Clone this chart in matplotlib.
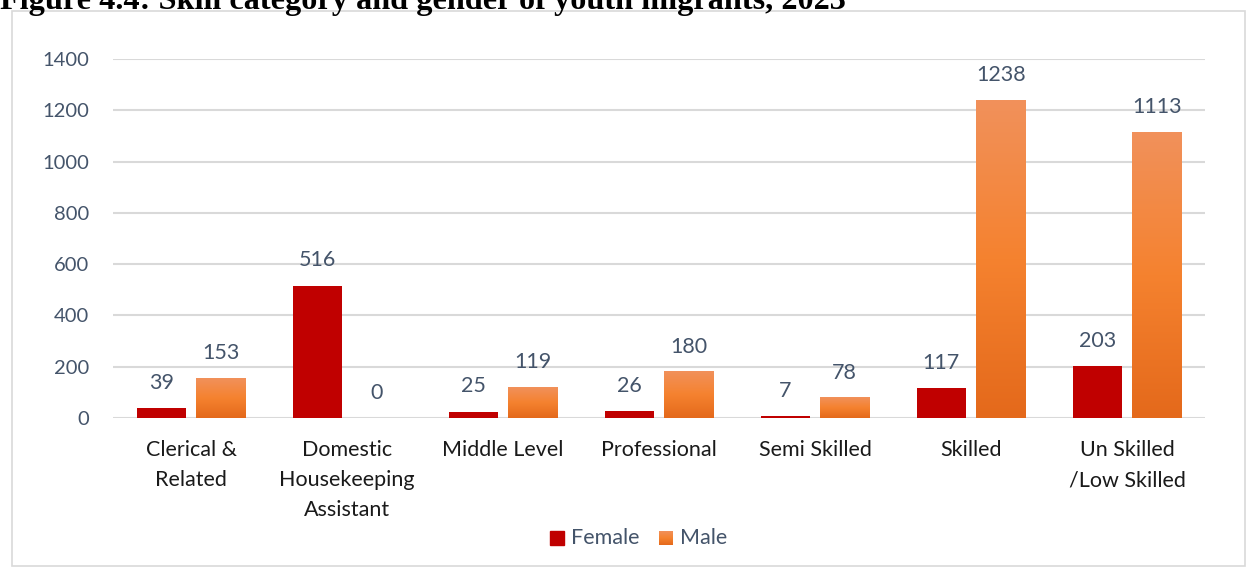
import matplotlib
matplotlib.use("Agg")
import matplotlib.pyplot as plt
import numpy as np
from matplotlib.colors import LinearSegmentedColormap
from matplotlib.patches import Rectangle

categories = ["Clerical &\nRelated", "Domestic\nHousekeeping\nAssistant", "Middle Level",
              "Professional", "Semi Skilled", "Skilled", "Un Skilled\n/Low Skilled"]
female = [39, 516, 25, 26, 7, 117, 203]
male = [153, 0, 119, 180, 78, 1238, 1113]
series_names = ["Female", "Male"]
yticks = [0, 200, 400, 600, 800, 1000, 1200, 1400]
title = "Figure 4.4: Skill category and gender of youth migrants, 2023"

TEXT = "#44546A"
FEMALE_C = "#C00000"
male_cmap = LinearSegmentedColormap.from_list(
    "male", [(0.0, "#E4691B"), (0.5, "#F5822F"), (1.0, "#F1915B")])
FONT = ["Lato", "DejaVu Sans"]

W, H = 1246, 567
fig = plt.figure(figsize=(W / 100, H / 100), dpi=100)

def fx(px):
    return px / W

def fy(py):
    return 1 - py / H

# chart frame
fig.patches.append(Rectangle((fx(12), fy(566)), fx(1233), fy(11) - fy(566),
                             transform=fig.transFigure, fill=False,
                             edgecolor="#D9D9D9", linewidth=1.2))

fig.text(fx(0), fy(9.5), title, family="Liberation Serif", fontweight="bold",
         fontsize=23.2, color="black", ha="left", va="baseline")

ax = fig.add_axes([fx(113), fy(418), fx(1205) - fx(113), fy(59) - fy(418)])

x = np.arange(len(categories))
bw = 0.315
off = 0.19

ax.bar(x - off, female, width=bw, color=FEMALE_C, zorder=3, label=series_names[0])

grad = np.linspace(0, 1, 256).reshape(-1, 1)
for xi, v in zip(x + off, male):
    if v > 0:
        ax.imshow(grad, extent=(xi - bw / 2, xi + bw / 2, 0, v), origin="lower",
                  cmap=male_cmap, aspect="auto", zorder=3, interpolation="bilinear")
ax.bar(x + off, male, width=bw, color="none", zorder=3)

for xi, v in zip(x - off, female):
    ax.annotate(str(v), (xi, v), xytext=(0, 11), textcoords="offset points",
                ha="center", va="bottom", color=TEXT, fontsize=15.5, family=FONT)
for xi, v in zip(x + off, male):
    ax.annotate(str(v), (xi, v), xytext=(0, 11), textcoords="offset points",
                ha="center", va="bottom", color=TEXT, fontsize=15.5, family=FONT)

ax.set_xlim(-0.5, len(categories) - 0.5)
ax.set_ylim(0, 1400)
ax.set_yticks(yticks)
ax.set_yticklabels([str(t) for t in yticks], family=FONT, fontsize=14.5, color=TEXT)
ax.set_xticks(x)
ax.set_xticklabels(categories, family=FONT, fontsize=15.5, color="#1A1A1A",
                   linespacing=1.62)
ax.tick_params(axis="both", length=0)
ax.tick_params(axis="y", pad=17)
ax.tick_params(axis="x", pad=16)
ax.grid(axis="y", color="#D9D9D9", linewidth=1.5, zorder=0)
ax.set_axisbelow(True)
for s in ax.spines.values():
    s.set_visible(False)

# legend
lx, ly = 550, 538
fig.patches.append(Rectangle((fx(lx), fy(ly + 7)), fx(14), fy(ly - 7) - fy(ly + 7),
                             transform=fig.transFigure, color=FEMALE_C))
fig.text(fx(lx + 21), fy(ly), series_names[0], family=FONT, fontsize=15.5,
         color=TEXT, ha="left", va="center")
lax = fig.add_axes([fx(659), fy(ly + 7), fx(14), fy(ly - 7) - fy(ly + 7)])
lax.imshow(grad, origin="lower", cmap=male_cmap, aspect="auto", extent=(0, 1, 0, 1))
lax.axis("off")
fig.text(fx(680), fy(ly), series_names[1], family=FONT, fontsize=15.5,
         color=TEXT, ha="left", va="center")

fig.savefig("out.png", dpi=100)
